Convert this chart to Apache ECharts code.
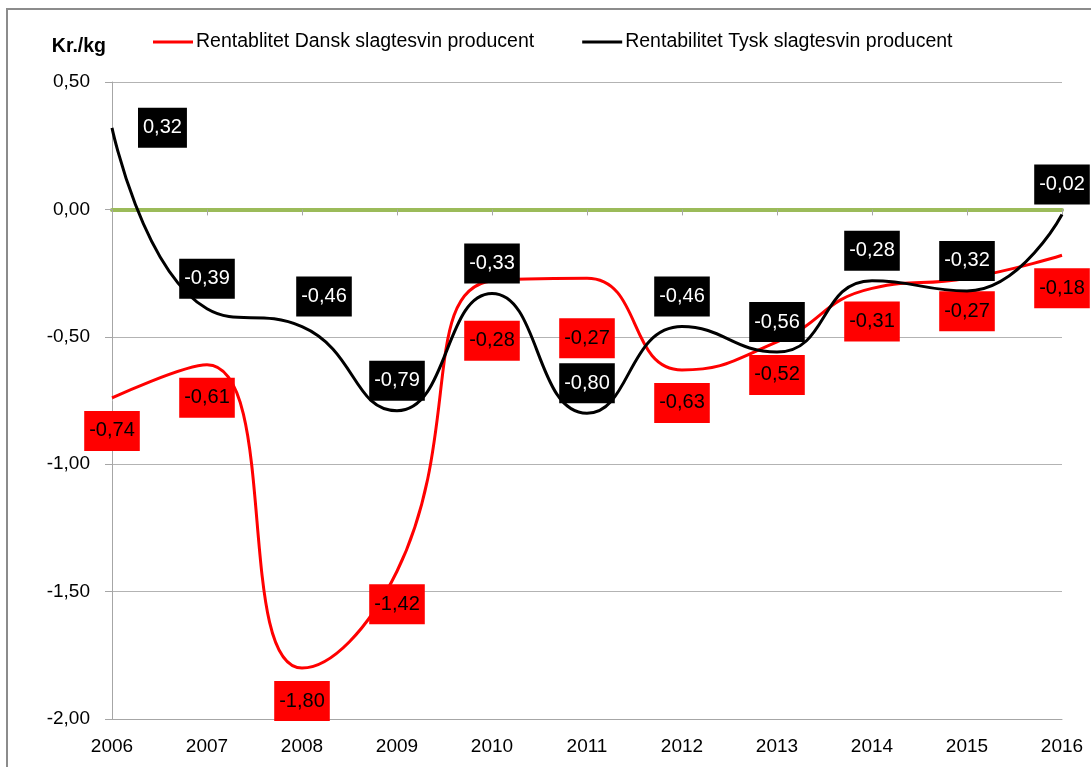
<!DOCTYPE html>
<html>
<head>
<meta charset="utf-8">
<script src="https://cdn.jsdelivr.net/npm/echarts@6/dist/echarts.min.js"></script>
<style>
html, body { margin: 0; padding: 0; background: #fff; }
#chart { width: 1091px; height: 767px; }
</style>
</head>
<body>
<div id="chart"></div>
<script>
var years = ['2006', '2007', '2008', '2009', '2010', '2011', '2012', '2013', '2014', '2015', '2016'];
var dansk = [-0.74, -0.61, -1.80, -1.42, -0.28, -0.27, -0.63, -0.52, -0.31, -0.27, -0.18];
var tysk = [0.32, -0.39, -0.46, -0.79, -0.33, -0.80, -0.46, -0.56, -0.28, -0.32, -0.02];

var nameDansk = 'Rentablitet Dansk slagtesvin producent';
var nameTysk = 'Rentabilitet Tysk slagtesvin producent';

function fmt(v) {
    return v.toFixed(2).replace('.', ',');
}

var chart = echarts.init(document.getElementById('chart'));

// labels that sit somewhere else than the default
var danskData = dansk.map(function (v, i) {
    if (i === 4 || i === 5) return { value: v, label: { distance: 40 } };
    return v;
});
var tyskData = tysk.map(function (v, i) {
    if (i === 0) return { value: v, label: { position: 'right', distance: 26 } };
    if (i === 2) return { value: v, label: { offset: [22, 0] } };
    return v;
});

var font = 'Liberation Sans, Arial, sans-serif';

var option = {
    animation: false,
    textStyle: { fontFamily: font },
    graphic: [{
        type: 'rect',
        shape: { x: 7, y: 9, width: 1100, height: 800 },
        style: { fill: 'none', stroke: '#8c8c8c', lineWidth: 2 },
        silent: true
    }],
    legend: {
        left: 148,
        top: 27,
        itemGap: 48,
        itemWidth: 40,
        itemHeight: 3,
        icon: 'rect',
        textStyle: { fontSize: 19.5, color: '#000', fontFamily: font, padding: [0, 0, 0, -2] },
        data: [nameDansk, nameTysk]
    },
    grid: { left: 112, right: 29, top: 82, bottom: 48 },
    xAxis: [{
        type: 'category',
        data: years,
        boundaryGap: false,
        axisLine: { onZero: false, lineStyle: { color: '#a6a6a6', width: 1 } },
        axisTick: { show: false },
        axisLabel: { fontSize: 19, color: '#000', margin: 18, fontFamily: font }
    }, {
        type: 'category',
        data: years,
        position: 'bottom',
        boundaryGap: false,
        axisLine: { onZero: true, lineStyle: { color: '#9bbb59', width: 4 } },
        axisTick: { show: true, length: 6, lineStyle: { color: '#a6a6a6' } },
        axisLabel: { show: false }
    }],
    yAxis: {
        type: 'value',
        min: -2,
        max: 0.5,
        interval: 0.5,
        name: 'Kr./kg',
        nameLocation: 'end',
        nameGap: 35,
        nameTextStyle: { fontSize: 19.5, fontWeight: 'bold', color: '#000', align: 'right', verticalAlign: 'middle', padding: [0, 6, 0, 0], fontFamily: font },
        axisLine: { show: true, lineStyle: { color: '#a6a6a6' } },
        axisTick: { show: true, length: 7, lineStyle: { color: '#a6a6a6' } },
        axisLabel: { fontSize: 19, color: '#000', margin: 22, fontFamily: font, formatter: fmt },
        splitLine: { lineStyle: { color: '#b3b3b3', width: 1 } }
    },
    series: [{
        name: nameDansk,
        type: 'line',
        data: danskData,
        smooth: 0.5,
        symbol: 'circle',
        symbolSize: 0,
        lineStyle: { color: '#ff0000', width: 3 },
        itemStyle: { color: '#ff0000' },
        z: 3,
        label: {
            show: true,
            position: 'bottom',
            distance: 13,
            formatter: function (p) { return fmt(p.value); },
            fontSize: 20,
            lineHeight: 22,
            color: '#000',
            backgroundColor: '#ff0000',
            padding: [9, 5],
            fontFamily: font
        }
    }, {
        name: nameTysk,
        type: 'line',
        data: tyskData,
        smooth: 0.5,
        symbol: 'circle',
        symbolSize: 0,
        lineStyle: { color: '#000000', width: 3 },
        itemStyle: { color: '#000000' },
        z: 4,
        label: {
            show: true,
            position: 'top',
            distance: 10,
            formatter: function (p) { return fmt(p.value); },
            fontSize: 20,
            lineHeight: 22,
            color: '#fff',
            backgroundColor: '#000000',
            padding: [9, 5],
            fontFamily: font
        }
    }]
};

chart.setOption(option);
</script>
</body>
</html>
